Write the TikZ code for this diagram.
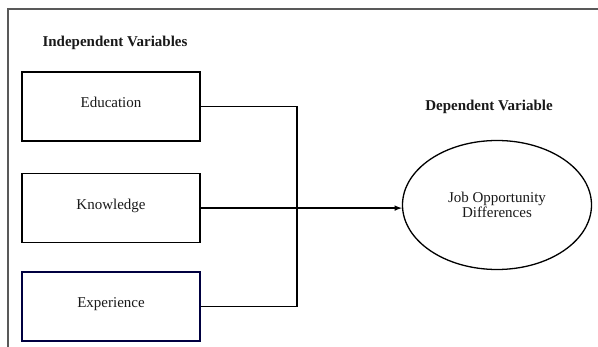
\documentclass[tikz,border=0pt]{standalone}
\usepackage{fontspec}
\setmainfont{Liberation Serif}
\usepackage{tikz}
\usetikzlibrary{positioning,shapes.geometric,arrows}
\usepackage{xcolor}

\begin{document}
\begin{tikzpicture}[x=1pt, y=-1pt, node distance=30pt,
  every node/.style = {font=\fontsize{15}{18}\selectfont, text=black!90},
  varbox/.style = {draw, line width=1.6pt, minimum width=178pt,
	minimum height=69pt, text height=11pt, text depth=9pt},
  heading/.style = {font=\fontsize{15}{18}\selectfont\bfseries},
  link/.style = {line width=1.5pt}]

\useasboundingbox (0,0) rectangle (598,347);
\draw[line width=1.4pt, black!65] (8,347) -- (8,9) -- (598,9);

\node[heading] (indep) at (115,43) {Independent Variables};
\node[heading] (dep) at (489,107) {Dependent Variable};

\node[varbox] (educ) at (111,106.5) {Education};
\node[varbox, below=31pt of educ] (know) {Knowledge};
\node[varbox, below=28pt of know, draw=blue!25!black] (expe) {Experience};

\node[ellipse, draw, line width=1.3pt, minimum width=189pt,
	minimum height=129pt, align=center] (job) at (497,205)
	{Job Opportunity\\[-3pt] Differences};

\coordinate (bus) at (297,0);
\draw[link] (educ.east) -| (bus |- expe.east) -- (expe.east);
\draw[link, -latex] (know.east) -- (know.east -| job.west);
\end{tikzpicture}
\end{document}
